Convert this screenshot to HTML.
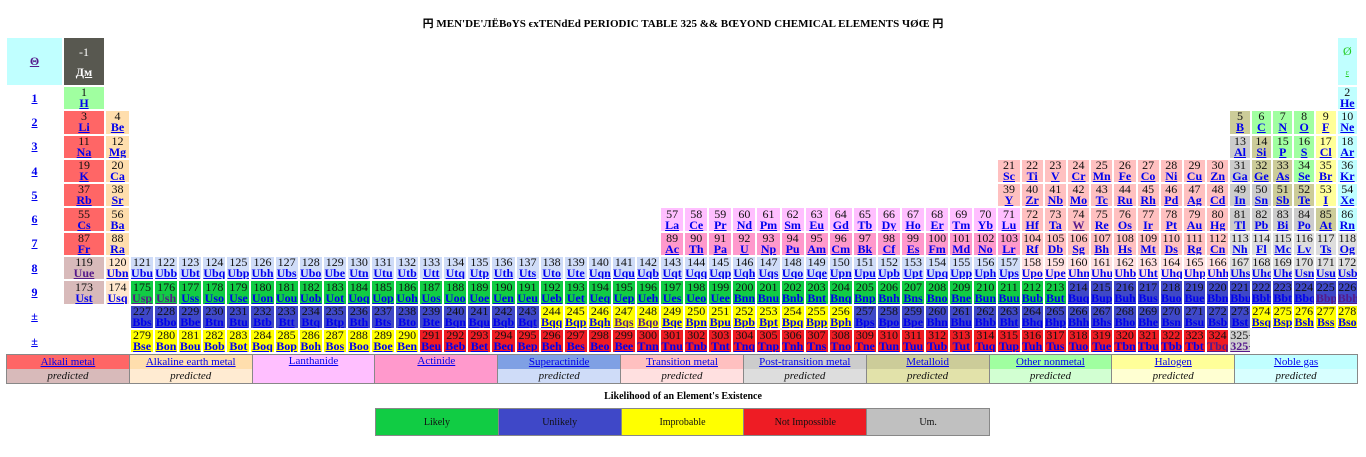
<!DOCTYPE html>
<html><head><meta charset="utf-8"><style>
body{margin:0;width:1366px;height:457px;background:#fff;position:relative;overflow:hidden;font-family:"Liberation Serif","Noto Serif CJK SC",serif}
.title{position:absolute;left:0;width:1366px;top:15px;text-align:center;font:bold 11px "Liberation Serif","Noto Sans CJK SC",serif}
table.pt{position:absolute;left:6px;top:37px;border-collapse:separate;border-spacing:0;table-layout:fixed;width:1352px}
.pt tr{height:24.3px}
.pt td{border:1px solid #fff;padding:0;text-align:center;font:12px/11px "Liberation Serif",serif;overflow:hidden;white-space:nowrap;color:#111}
.pt td b{display:block;color:#0000ee;text-decoration:underline}
.pt td b.v{color:#551a8b}
.pt td.lbl b{display:inline;font-size:12px}
.a{background:#ff6666}.b{background:#ffdead}.l{background:#ffbfff}.c{background:#ff99cc}
.s{background:#cfdcf8}.t{background:#ffc0c0}.tp{background:#ffe0e0}.p{background:#cccccc}.pp{background:#dddddd}
.m{background:#cccc99}.n{background:#a0ffa0}.h{background:#ffff99}.g{background:#c0ffff}
.ap{background:#d8baba}.bp{background:#ffe6cc}
.G{background:#11cc44}.B{background:#3f48c8}.Y{background:#ffff00}.R{background:#ee1c24}.U{background:#cfcfcf}
.B b{color:#1a1ae0}
table.lg{position:absolute;left:6px;top:354px;width:1352px;height:29px;border-collapse:collapse;table-layout:fixed;border:1px solid #888}
.lg td{border-left:1px solid #888;border-right:1px solid #888;padding:0;text-align:center;font:11px/13px "Liberation Serif",serif;height:14px}
.lg td u{color:#0000ee}
.lg td i{color:#111}
.lh{position:absolute;left:0;width:1366px;top:391px;text-align:center;font:bold 10px "Liberation Serif",serif}
table.lk{position:absolute;left:375px;top:408px;width:615px;height:28px;border-collapse:collapse;table-layout:fixed}
.lk td{border:1px solid #888;padding:0;text-align:center;font:10px "Liberation Serif",serif;color:#111}
</style></head><body>
<div class="title">円 MEN'DE'ЛЁBoYS ϵxTENdEd PERIODIC TABLE 325 &amp;&amp; BŒYOND CHEMICAL ELEMENTS ЧØŒ 円</div>
<table class="pt">
<colgroup><col style="width:57px"><col style="width:42px"><col style="width:25px">
<col span="36" style="width:24.1px"><col span="10" style="width:23.2px"><col span="6" style="width:21.4px"></colgroup>
<tr style="height:49px"><td class="g lbl"><b class="v" style="color:#551a8b">Θ</b></td><td style="background:#585850;color:#fff;line-height:20px">-1<b style="color:#fff">Дм</b></td><td colspan="52"></td><td class="g" style="color:#22cc22;line-height:20px">Ø<br><span style="font-size:8px;text-decoration:underline">ε</span></td></tr>
<tr><td class="lbl"><b>1</b></td><td class="n">1<b>H</b></td><td colspan="52"></td><td class="g">2<b>He</b></td></tr>
<tr><td class="lbl"><b>2</b></td><td class="a">3<b>Li</b></td><td class="b">4<b>Be</b></td><td colspan="46"></td><td class="m">5<b>B</b></td><td class="n">6<b>C</b></td><td class="n">7<b>N</b></td><td class="n">8<b>O</b></td><td class="h">9<b>F</b></td><td class="g">10<b>Ne</b></td></tr>
<tr><td class="lbl"><b>3</b></td><td class="a">11<b>Na</b></td><td class="b">12<b>Mg</b></td><td colspan="46"></td><td class="p">13<b>Al</b></td><td class="m">14<b>Si</b></td><td class="n">15<b>P</b></td><td class="n">16<b>S</b></td><td class="h">17<b>Cl</b></td><td class="g">18<b>Ar</b></td></tr>
<tr><td class="lbl"><b>4</b></td><td class="a">19<b>K</b></td><td class="b">20<b>Ca</b></td><td colspan="36"></td><td class="t">21<b>Sc</b></td><td class="t">22<b>Ti</b></td><td class="t">23<b>V</b></td><td class="t">24<b>Cr</b></td><td class="t">25<b>Mn</b></td><td class="t">26<b>Fe</b></td><td class="t">27<b>Co</b></td><td class="t">28<b>Ni</b></td><td class="t">29<b>Cu</b></td><td class="t">30<b>Zn</b></td><td class="p">31<b>Ga</b></td><td class="m">32<b>Ge</b></td><td class="m">33<b>As</b></td><td class="n">34<b>Se</b></td><td class="h">35<b>Br</b></td><td class="g">36<b>Kr</b></td></tr>
<tr><td class="lbl"><b>5</b></td><td class="a">37<b>Rb</b></td><td class="b">38<b>Sr</b></td><td colspan="36"></td><td class="t">39<b>Y</b></td><td class="t">40<b>Zr</b></td><td class="t">41<b>Nb</b></td><td class="t">42<b>Mo</b></td><td class="t">43<b>Tc</b></td><td class="t">44<b>Ru</b></td><td class="t">45<b>Rh</b></td><td class="t">46<b>Pd</b></td><td class="t">47<b>Ag</b></td><td class="t">48<b>Cd</b></td><td class="p">49<b>In</b></td><td class="p">50<b>Sn</b></td><td class="m">51<b>Sb</b></td><td class="m">52<b>Te</b></td><td class="h">53<b>I</b></td><td class="g">54<b>Xe</b></td></tr>
<tr><td class="lbl"><b>6</b></td><td class="a">55<b>Cs</b></td><td class="b">56<b>Ba</b></td><td colspan="22"></td><td class="l">57<b>La</b></td><td class="l">58<b>Ce</b></td><td class="l">59<b>Pr</b></td><td class="l">60<b>Nd</b></td><td class="l">61<b>Pm</b></td><td class="l">62<b>Sm</b></td><td class="l">63<b>Eu</b></td><td class="l">64<b>Gd</b></td><td class="l">65<b>Tb</b></td><td class="l">66<b>Dy</b></td><td class="l">67<b>Ho</b></td><td class="l">68<b>Er</b></td><td class="l">69<b>Tm</b></td><td class="l">70<b>Yb</b></td><td class="l">71<b>Lu</b></td><td class="t">72<b>Hf</b></td><td class="t">73<b>Ta</b></td><td class="t">74<b class="v">W</b></td><td class="t">75<b>Re</b></td><td class="t">76<b>Os</b></td><td class="t">77<b>Ir</b></td><td class="t">78<b>Pt</b></td><td class="t">79<b>Au</b></td><td class="t">80<b>Hg</b></td><td class="p">81<b>Tl</b></td><td class="p">82<b>Pb</b></td><td class="p">83<b>Bi</b></td><td class="p">84<b>Po</b></td><td class="m">85<b>At</b></td><td class="g">86<b>Rn</b></td></tr>
<tr><td class="lbl"><b>7</b></td><td class="a">87<b>Fr</b></td><td class="b">88<b>Ra</b></td><td colspan="22"></td><td class="c">89<b>Ac</b></td><td class="c">90<b>Th</b></td><td class="c">91<b>Pa</b></td><td class="c">92<b>U</b></td><td class="c">93<b>Np</b></td><td class="c">94<b>Pu</b></td><td class="c">95<b>Am</b></td><td class="c">96<b>Cm</b></td><td class="c">97<b>Bk</b></td><td class="c">98<b>Cf</b></td><td class="c">99<b>Es</b></td><td class="c">100<b>Fm</b></td><td class="c">101<b>Md</b></td><td class="c">102<b>No</b></td><td class="c">103<b>Lr</b></td><td class="t">104<b>Rf</b></td><td class="t">105<b>Db</b></td><td class="t">106<b>Sg</b></td><td class="t">107<b>Bh</b></td><td class="t">108<b>Hs</b></td><td class="t">109<b>Mt</b></td><td class="t">110<b>Ds</b></td><td class="t">111<b>Rg</b></td><td class="t">112<b>Cn</b></td><td class="pp">113<b>Nh</b></td><td class="pp">114<b>Fl</b></td><td class="pp">115<b>Mc</b></td><td class="pp">116<b>Lv</b></td><td class="pp">117<b>Ts</b></td><td class="pp">118<b>Og</b></td></tr>
<tr><td class="lbl"><b>8</b></td><td class="ap">119<b class="v">Uue</b></td><td class="bp">120<b>Ubn</b></td><td class="s">121<b>Ubu</b></td><td class="s">122<b>Ubb</b></td><td class="s">123<b>Ubt</b></td><td class="s">124<b>Ubq</b></td><td class="s">125<b>Ubp</b></td><td class="s">126<b>Ubh</b></td><td class="s">127<b>Ubs</b></td><td class="s">128<b>Ubo</b></td><td class="s">129<b>Ube</b></td><td class="s">130<b>Utn</b></td><td class="s">131<b>Utu</b></td><td class="s">132<b>Utb</b></td><td class="s">133<b>Utt</b></td><td class="s">134<b>Utq</b></td><td class="s">135<b>Utp</b></td><td class="s">136<b>Uth</b></td><td class="s">137<b>Uts</b></td><td class="s">138<b>Uto</b></td><td class="s">139<b>Ute</b></td><td class="s">140<b>Uqn</b></td><td class="s">141<b>Uqu</b></td><td class="s">142<b>Uqb</b></td><td class="s">143<b>Uqt</b></td><td class="s">144<b>Uqq</b></td><td class="s">145<b>Uqp</b></td><td class="s">146<b>Uqh</b></td><td class="s">147<b>Uqs</b></td><td class="s">148<b>Uqo</b></td><td class="s">149<b>Uqe</b></td><td class="s">150<b>Upn</b></td><td class="s">151<b>Upu</b></td><td class="s">152<b>Upb</b></td><td class="s">153<b>Upt</b></td><td class="s">154<b>Upq</b></td><td class="s">155<b>Upp</b></td><td class="s">156<b>Uph</b></td><td class="s">157<b>Ups</b></td><td class="tp">158<b>Upo</b></td><td class="tp">159<b>Upe</b></td><td class="tp">160<b>Uhn</b></td><td class="tp">161<b>Uhu</b></td><td class="tp">162<b>Uhb</b></td><td class="tp">163<b>Uht</b></td><td class="tp">164<b>Uhq</b></td><td class="tp">165<b>Uhp</b></td><td class="tp">166<b>Uhh</b></td><td class="pp">167<b>Uhs</b></td><td class="pp">168<b>Uho</b></td><td class="pp">169<b>Uhe</b></td><td class="pp">170<b>Usn</b></td><td class="pp">171<b>Usu</b></td><td class="pp">172<b>Usb</b></td></tr>
<tr><td class="lbl"><b>9</b></td><td class="ap">173<b>Ust</b></td><td class="bp">174<b>Usq</b></td><td class="G">175<b class="v">Usp</b></td><td class="G">176<b class="v">Ush</b></td><td class="G">177<b>Uss</b></td><td class="G">178<b>Uso</b></td><td class="G">179<b>Use</b></td><td class="G">180<b>Uon</b></td><td class="G">181<b>Uou</b></td><td class="G">182<b>Uob</b></td><td class="G">183<b>Uot</b></td><td class="G">184<b>Uoq</b></td><td class="G">185<b>Uop</b></td><td class="G">186<b>Uoh</b></td><td class="G">187<b>Uos</b></td><td class="G">188<b>Uoo</b></td><td class="G">189<b>Uoe</b></td><td class="G">190<b>Uen</b></td><td class="G">191<b>Ueu</b></td><td class="G">192<b>Ueb</b></td><td class="G">193<b>Uet</b></td><td class="G">194<b>Ueq</b></td><td class="G">195<b>Uep</b></td><td class="G">196<b>Ueh</b></td><td class="G">197<b>Ues</b></td><td class="G">198<b>Ueo</b></td><td class="G">199<b>Uee</b></td><td class="G">200<b>Bnn</b></td><td class="G">201<b>Bnu</b></td><td class="G">202<b>Bnb</b></td><td class="G">203<b>Bnt</b></td><td class="G">204<b>Bnq</b></td><td class="G">205<b>Bnp</b></td><td class="G">206<b>Bnh</b></td><td class="G">207<b>Bns</b></td><td class="G">208<b>Bno</b></td><td class="G">209<b>Bne</b></td><td class="G">210<b>Bun</b></td><td class="G">211<b>Buu</b></td><td class="G">212<b>Bub</b></td><td class="G">213<b>But</b></td><td class="B">214<b>Buq</b></td><td class="B">215<b>Bup</b></td><td class="B">216<b>Buh</b></td><td class="B">217<b>Bus</b></td><td class="B">218<b>Buo</b></td><td class="B">219<b>Bue</b></td><td class="B">220<b>Bbn</b></td><td class="B">221<b>Bbu</b></td><td class="B">222<b>Bbb</b></td><td class="B">223<b>Bbt</b></td><td class="B">224<b>Bbq</b></td><td class="B">225<b class="v">Bbp</b></td><td class="B">226<b class="v">Bbh</b></td></tr>
<tr><td class="lbl"><b>±</b></td><td colspan="2"></td><td class="B">227<b>Bbs</b></td><td class="B">228<b>Bbo</b></td><td class="B">229<b>Bbe</b></td><td class="B">230<b>Btn</b></td><td class="B">231<b>Btu</b></td><td class="B">232<b>Btb</b></td><td class="B">233<b>Btt</b></td><td class="B">234<b>Btq</b></td><td class="B">235<b>Btp</b></td><td class="B">236<b>Bth</b></td><td class="B">237<b>Bts</b></td><td class="B">238<b>Bto</b></td><td class="B">239<b>Bte</b></td><td class="B">240<b>Bqn</b></td><td class="B">241<b>Bqu</b></td><td class="B">242<b>Bqb</b></td><td class="B">243<b>Bqt</b></td><td class="Y">244<b>Bqq</b></td><td class="Y">245<b>Bqp</b></td><td class="Y">246<b>Bqh</b></td><td class="Y">247<b class="v">Bqs</b></td><td class="Y">248<b class="v">Bqo</b></td><td class="Y">249<b>Bqe</b></td><td class="Y">250<b>Bpn</b></td><td class="Y">251<b>Bpu</b></td><td class="Y">252<b>Bpb</b></td><td class="Y">253<b>Bpt</b></td><td class="Y">254<b>Bpq</b></td><td class="Y">255<b>Bpp</b></td><td class="Y">256<b>Bph</b></td><td class="B">257<b>Bps</b></td><td class="B">258<b>Bpo</b></td><td class="B">259<b>Bpe</b></td><td class="B">260<b>Bhn</b></td><td class="B">261<b>Bhu</b></td><td class="B">262<b>Bhb</b></td><td class="B">263<b>Bht</b></td><td class="B">264<b>Bhq</b></td><td class="B">265<b>Bhp</b></td><td class="B">266<b>Bhh</b></td><td class="B">267<b>Bhs</b></td><td class="B">268<b>Bho</b></td><td class="B">269<b>Bhe</b></td><td class="B">270<b>Bsn</b></td><td class="B">271<b>Bsu</b></td><td class="B">272<b>Bsb</b></td><td class="B">273<b>Bst</b></td><td class="Y">274<b>Bsq</b></td><td class="Y">275<b>Bsp</b></td><td class="Y">276<b>Bsh</b></td><td class="Y">277<b>Bss</b></td><td class="Y">278<b>Bso</b></td></tr>
<tr><td class="lbl"><b>±</b></td><td colspan="2"></td><td class="Y">279<b>Bse</b></td><td class="Y">280<b>Bon</b></td><td class="Y">281<b>Bou</b></td><td class="Y">282<b>Bob</b></td><td class="Y">283<b>Bot</b></td><td class="Y">284<b>Boq</b></td><td class="Y">285<b>Bop</b></td><td class="Y">286<b>Boh</b></td><td class="Y">287<b>Bos</b></td><td class="Y">288<b>Boo</b></td><td class="Y">289<b>Boe</b></td><td class="Y">290<b>Ben</b></td><td class="R">291<b>Beu</b></td><td class="R">292<b>Beb</b></td><td class="R">293<b>Bet</b></td><td class="R">294<b>Beq</b></td><td class="R">295<b>Bep</b></td><td class="R">296<b>Beh</b></td><td class="R">297<b>Bes</b></td><td class="R">298<b>Beo</b></td><td class="R">299<b>Bee</b></td><td class="R">300<b>Tnn</b></td><td class="R">301<b>Tnu</b></td><td class="R">302<b>Tnb</b></td><td class="R">303<b>Tnt</b></td><td class="R">304<b>Tnq</b></td><td class="R">305<b>Tnp</b></td><td class="R">306<b>Tnh</b></td><td class="R">307<b>Tns</b></td><td class="R">308<b>Tno</b></td><td class="R">309<b>Tne</b></td><td class="R">310<b>Tun</b></td><td class="R">311<b>Tuu</b></td><td class="R">312<b>Tub</b></td><td class="R">313<b>Tut</b></td><td class="R">314<b>Tuq</b></td><td class="R">315<b>Tup</b></td><td class="R">316<b>Tuh</b></td><td class="R">317<b>Tus</b></td><td class="R">318<b>Tuo</b></td><td class="R">319<b>Tue</b></td><td class="R">320<b>Tbn</b></td><td class="R">321<b>Tbu</b></td><td class="R">322<b>Tbb</b></td><td class="R">323<b>Tbt</b></td><td class="R">324<b class="v">Tbq</b></td><td class="U">325+<b class="v">325+</b></td><td colspan="5"></td></tr>
</table>
<table class="lg">
<tr><td style="background:#ff6666"><u>Alkali metal</u></td><td style="background:#ffdead"><u>Alkaline earth metal</u></td><td rowspan="2" style="background:#ffbfff;vertical-align:top"><u>Lanthanide</u></td><td rowspan="2" style="background:#ff99cc;vertical-align:top"><u>Actinide</u></td><td style="background:#7fa0e4"><u>Superactinide</u></td><td style="background:#ffc0c0"><u>Transition metal</u></td><td style="background:#cccccc"><u>Post-transition metal</u></td><td style="background:#cccc99"><u>Metalloid</u></td><td style="background:#a0ffa0"><u>Other nonmetal</u></td><td style="background:#ffff99"><u>Halogen</u></td><td style="background:#c0ffff"><u>Noble gas</u></td></tr>
<tr><td style="background:#d8baba"><i>predicted</i></td><td style="background:#ffebd2"><i>predicted</i></td><td style="background:#cfdcf8"><i>predicted</i></td><td style="background:#ffe0e0"><i>predicted</i></td><td style="background:#dddddd"><i>predicted</i></td><td style="background:#e2e2aa"><i>predicted</i></td><td style="background:#d2ffd2"><i>predicted</i></td><td style="background:#ffffd2"><i>predicted</i></td><td style="background:#d8ffff"><i>predicted</i></td></tr>
</table>
<div class="lh">Likelihood of an Element's Existence</div>
<table class="lk"><tr><td class="G">Likely</td><td class="B">Unlikely</td><td class="Y">Improbable</td><td class="R">Not Impossible</td><td class="U" style="background:#c0c0c0">Um.</td></tr></table>
</body></html>
